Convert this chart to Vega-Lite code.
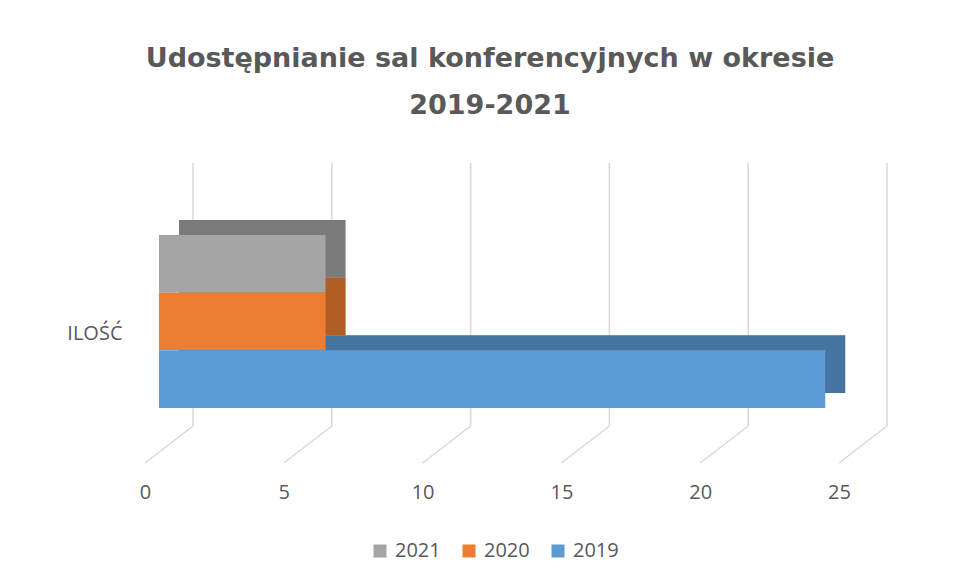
{
  "$schema": "https://vega.github.io/schema/vega-lite/v6.json",
  "autosize": "none",
  "width": 694,
  "height": 317,
  "padding": {"left": 159, "top": 163, "right": 104, "bottom": 103},
  "background": "white",
  "config": {
    "view": {"stroke": null},
    "font": "Open Sans"
  },
  "title": {
    "text": ["Udostępnianie sal konferencyjnych w okresie", "2019-2021"],
    "font": "DejaVu Sans",
    "fontSize": 27,
    "fontWeight": "bold",
    "color": "#595959",
    "lineHeight": 47,
    "anchor": "middle",
    "dx": -16,
    "offset": 42
  },
  "datasets": {
    "grid": [{"v": 0}, {"v": 5}, {"v": 10}, {"v": 15}, {"v": 20}, {"v": 25}],
    "bars": [
      {"kategoria": "ILOŚĆ", "rok": "2021", "wartosc": 6},
      {"kategoria": "ILOŚĆ", "rok": "2020", "wartosc": 6},
      {"kategoria": "ILOŚĆ", "rok": "2019", "wartosc": 24}
    ]
  },
  "layer": [
    {
      "data": {"name": "grid"},
      "mark": {"type": "rule", "color": "#d9d9d9", "strokeWidth": 1.5, "xOffset": 34, "x2Offset": 34},
      "encoding": {
        "x": {"field": "v", "type": "quantitative", "scale": {"domain": [0, 25], "nice": false, "zero": true}},
        "x2": {"field": "v"},
        "y": {"datum": 1, "type": "quantitative", "scale": {"domain": [0, 1]}, "axis": null},
        "y2": {"datum": 0.1703}
      }
    },
    {
      "data": {"name": "grid"},
      "mark": {"type": "rule", "color": "#d9d9d9", "strokeWidth": 1.5, "xOffset": 34, "x2Offset": -14},
      "encoding": {
        "x": {"field": "v", "type": "quantitative"},
        "x2": {"field": "v"},
        "y": {"datum": 0.1703, "type": "quantitative", "scale": {"domain": [0, 1]}, "axis": null},
        "y2": {"datum": 0.0536}
      }
    },
    {
      "data": {"name": "bars"},
      "mark": {"type": "bar", "xOffset": 20, "x2Offset": 20},
      "encoding": {
        "x": {"field": "wartosc", "type": "quantitative"},
        "y": {
          "field": "kategoria",
          "type": "nominal",
          "scale": {"paddingOuter": 0.416, "paddingInner": 0, "align": 0.396},
          "axis": null
        },
        "yOffset": {
          "field": "rok",
          "type": "nominal",
          "sort": ["2021", "2020", "2019"],
          "scale": {"paddingInner": 0, "paddingOuter": 0}
        },
        "color": {"field": "rok", "type": "nominal"}
      }
    },
    {
      "data": {"name": "bars"},
      "mark": {"type": "bar", "xOffset": 20, "x2Offset": 20, "color": "black", "opacity": 0.25},
      "encoding": {
        "x": {"field": "wartosc", "type": "quantitative"},
        "y": {
          "field": "kategoria",
          "type": "nominal",
          "scale": {"paddingOuter": 0.416, "paddingInner": 0, "align": 0.396},
          "axis": null
        },
        "yOffset": {
          "field": "rok",
          "type": "nominal",
          "sort": ["2021", "2020", "2019"],
          "scale": {"paddingInner": 0, "paddingOuter": 0}
        }
      }
    },
    {
      "data": {"name": "bars"},
      "mark": {"type": "bar"},
      "encoding": {
        "x": {
          "field": "wartosc",
          "type": "quantitative",
          "axis": {
            "values": [0, 5, 10, 15, 20, 25],
            "grid": false,
            "domain": false,
            "ticks": false,
            "tickSize": 0,
            "labelPadding": 2,
            "labelOffset": -14,
            "labelFlush": false,
            "labelFontSize": 20,
            "labelFont": "Open Sans",
            "labelColor": "#595959",
            "title": null
          }
        },
        "y": {
          "field": "kategoria",
          "type": "nominal",
          "scale": {"paddingOuter": 0.416, "paddingInner": 0},
          "axis": {
            "orient": "left",
            "domain": false,
            "ticks": false,
            "tickSize": 0,
            "labelPadding": 37,
            "labelOffset": 12,
            "labelFontSize": 20,
            "labelFont": "Open Sans",
            "labelColor": "#595959",
            "title": null
          }
        },
        "yOffset": {
          "field": "rok",
          "type": "nominal",
          "sort": ["2021", "2020", "2019"],
          "scale": {"paddingInner": 0, "paddingOuter": 0}
        },
        "color": {
          "field": "rok",
          "type": "nominal",
          "scale": {"domain": ["2021", "2020", "2019"], "range": ["#A5A5A5", "#ED7D31", "#5B9BD5"]},
          "legend": {
            "orient": "none",
            "direction": "horizontal",
            "legendX": 211,
            "legendY": 378,
            "title": null,
            "symbolType": "square",
            "symbolSize": 169,
            "symbolStrokeWidth": 0,
            "labelFontSize": 20,
            "labelFont": "Open Sans",
            "labelColor": "#595959",
            "labelOffset": 5,
            "columnPadding": 18
          }
        }
      }
    }
  ],
  "resolve": {"scale": {"y": "independent"}, "axis": {"y": "independent"}}
}
